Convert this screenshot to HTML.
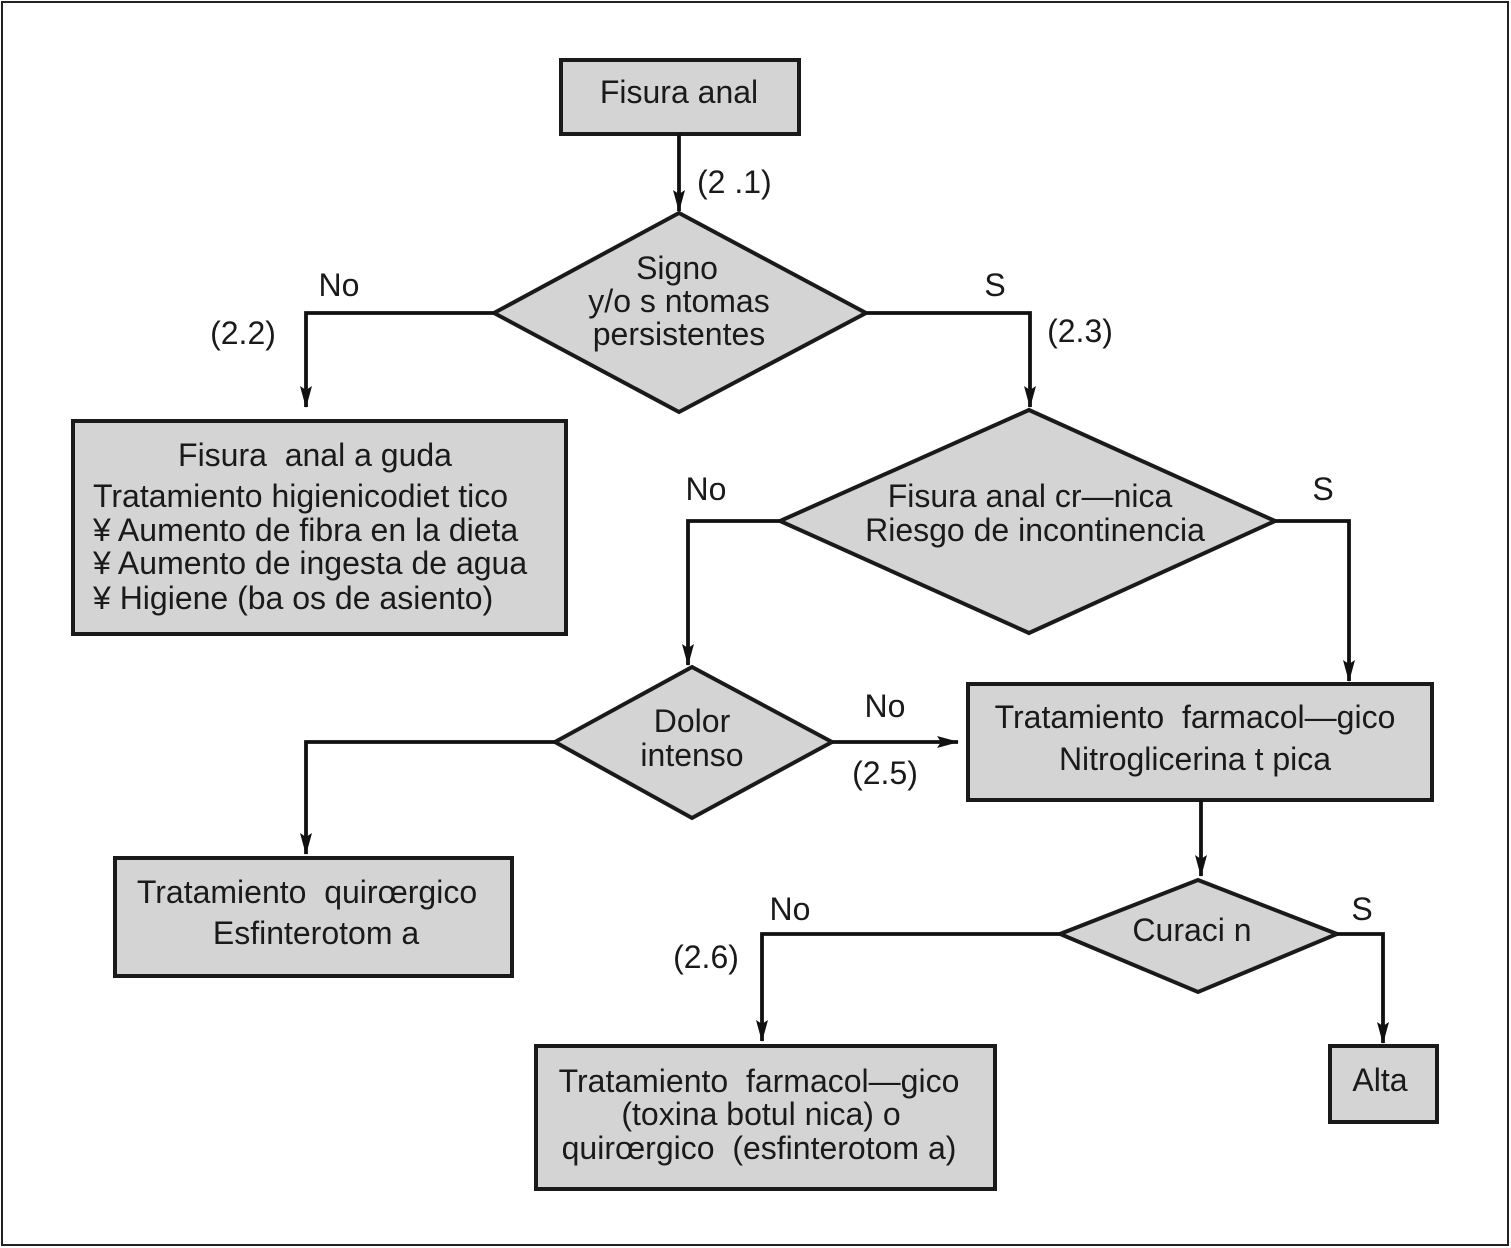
<!DOCTYPE html>
<html><head><meta charset="utf-8"><style>
html,body{margin:0;padding:0;background:#fff}
svg{display:block}
text{font-family:"Liberation Sans",Arial,sans-serif;font-size:32px;fill:#1a1a1a;white-space:pre}
</style></head><body>
<svg width="1511" height="1248" viewBox="0 0 1511 1248" xmlns="http://www.w3.org/2000/svg" xml:space="preserve">
<defs>
<marker id="a" viewBox="0 0 22 12" refX="21" refY="6" markerWidth="22" markerHeight="12" markerUnits="userSpaceOnUse" orient="auto">
<path d="M0,0 L4,6 L0,12 L22,6 Z" fill="#111"/>
</marker>
</defs>
<rect x="2" y="2" width="1506" height="1243" fill="#fff" stroke="#222" stroke-width="2"/>
<g fill="#d4d4d4" stroke="#1a1a1a" stroke-width="4">
<rect x="561" y="60" width="238" height="74"/>
<polygon points="679,213 866,313 679,412 494,313"/>
<rect x="73" y="421" width="493" height="213"/>
<polygon points="1029,410 1275,521 1029,633 780,521"/>
<polygon points="692,667 832,742 692,818 555,742"/>
<rect x="968" y="684" width="464" height="116"/>
<rect x="115" y="858" width="397" height="118"/>
<polygon points="1198,880 1337,934 1198,992 1060,934"/>
<rect x="536" y="1046" width="459" height="143"/>
<rect x="1330" y="1046" width="107" height="76"/>
</g>
<g fill="none" stroke="#111" stroke-width="3.8">
<path d="M679,134 V211" marker-end="url(#a)"/>
<path d="M494,313 H306 V407" marker-end="url(#a)"/>
<path d="M866,313 H1030 V407" marker-end="url(#a)"/>
<path d="M780,521 H688 V665" marker-end="url(#a)"/>
<path d="M1275,521 H1349 V681" marker-end="url(#a)"/>
<path d="M832,742 H958" marker-end="url(#a)"/>
<path d="M555,742 H306 V854" marker-end="url(#a)"/>
<path d="M1201,800 V876" marker-end="url(#a)"/>
<path d="M1060,934 H762 V1041" marker-end="url(#a)"/>
<path d="M1337,934 H1383 V1043" marker-end="url(#a)"/>
</g>
<text x="679" y="103" text-anchor="middle">Fisura anal</text>
<text x="697" y="193">(2 .1)</text>
<g text-anchor="middle">
<text x="677" y="279">Signo</text>
<text x="679" y="312">y/o s ntomas</text>
<text x="679" y="345">persistentes</text>
<text x="339" y="296">No</text>
<text x="243" y="344">(2.2)</text>
<text x="995" y="296">S</text>
<text x="1080" y="342">(2.3)</text>
<text x="315" y="466">Fisura  anal a guda</text>
<text x="1030" y="507">Fisura anal cr—nica</text>
<text x="1035" y="541">Riesgo de incontinencia</text>
<text x="706" y="500">No</text>
<text x="1323" y="500">S</text>
<text x="692" y="732">Dolor</text>
<text x="692" y="766">intenso</text>
<text x="885" y="717">No</text>
<text x="885" y="784">(2.5)</text>
<text x="1195" y="728">Tratamiento  farmacol—gico</text>
<text x="1195" y="770">Nitroglicerina t pica</text>
<text x="307" y="903">Tratamiento  quirœrgico</text>
<text x="316" y="944">Esfinterotom a</text>
<text x="1192" y="941">Curaci n</text>
<text x="790" y="920">No</text>
<text x="706" y="968">(2.6)</text>
<text x="1362" y="920">S</text>
<text x="759" y="1092">Tratamiento  farmacol—gico</text>
<text x="761" y="1125">(toxina botul nica) o</text>
<text x="759" y="1159">quirœrgico  (esfinterotom a)</text>
<text x="1380" y="1091">Alta</text>
</g>
<text x="93" y="507">Tratamiento higienicodiet tico</text>
<text x="93" y="541">¥ Aumento de fibra en la dieta</text>
<text x="93" y="574">¥ Aumento de ingesta de agua</text>
<text x="93" y="609">¥ Higiene (ba os de asiento)</text>
</svg>
</body></html>
